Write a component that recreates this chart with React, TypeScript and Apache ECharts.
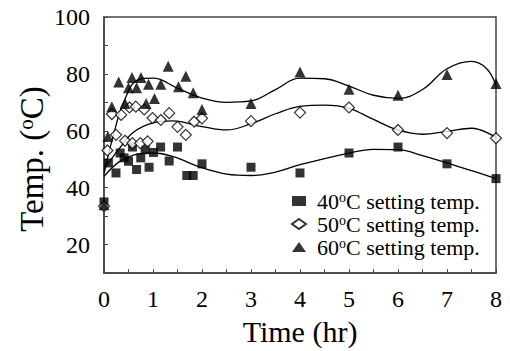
import React, { useEffect, useRef } from "react";
import * as echarts from "echarts";

// Measured points (time in hr, temperature in °C)
const t40 = [0, 0.09, 0.245, 0.33, 0.41, 0.5, 0.58, 0.665, 0.75, 0.84, 0.92, 1.01, 1.155, 1.33, 1.5, 1.69, 1.82, 2, 3, 4, 5, 6, 7, 8];
const v40 = [35, 48.7, 45.2, 52.2, 50.5, 49.3, 54.3, 46.4, 50.5, 53.4, 47.2, 52.4, 54.3, 49.4, 54.3, 44.3, 44.3, 48.4, 47.2, 45.2, 52.2, 54.3, 48.4, 43.2];

const t50 = [0, 0.07, 0.16, 0.245, 0.35, 0.43, 0.52, 0.58, 0.65, 0.74, 0.82, 0.89, 0.99, 1.16, 1.33, 1.5, 1.67, 1.84, 2, 3, 4, 5, 6, 7, 8];
const v50 = [33.5, 53.1, 65.9, 58.6, 65.6, 56.5, 68.2, 55.7, 68.5, 55.7, 67.5, 56.3, 64.5, 63.8, 66.2, 61.4, 58.6, 63.2, 64.4, 63.4, 66.4, 68.2, 60.3, 59.2, 57.4];

const t60 = [0, 0.08, 0.16, 0.3, 0.43, 0.5, 0.57, 0.665, 0.755, 0.86, 0.91, 1.03, 1.16, 1.31, 1.52, 1.67, 1.82, 2, 3, 4, 5, 6, 7, 8];
const v60 = [34, 58, 68.5, 77.2, 69.6, 75.1, 78.7, 75.1, 78.7, 69.6, 76.4, 71.4, 76.4, 82.7, 75.5, 79.2, 73.4, 67.5, 69.6, 80.7, 74.6, 72.5, 79.8, 76.6];

// Fitted trend curves
const c40t = [0, 0.3, 0.6, 1, 1.4, 2, 2.5, 3, 3.5, 4, 5, 5.5, 6, 6.5, 7, 7.5, 8];
const c40v = [44, 49, 51.5, 52.2, 51, 47, 44.8, 44.3, 45.5, 48.1, 52.2, 53.5, 53.4, 51.3, 48.7, 46, 43.2];

const c50t = [0, 0.3, 0.6, 1, 1.4, 2, 2.5, 3, 3.5, 4, 4.5, 5, 5.5, 6, 6.5, 7, 7.5, 8];
const c50v = [46.5, 53.5, 59.5, 62.8, 63.5, 61.5, 60.3, 62.5, 66, 68.6, 69, 67.9, 64, 60.3, 58.8, 59.8, 60.9, 57.7];

const c60t = [0, 0.2, 0.4, 0.7, 1, 1.5, 2, 2.5, 3, 3.5, 4, 4.5, 5, 5.5, 6, 6.5, 7, 7.5, 7.8, 8];
const c60v = [45, 59, 70, 78, 78.5, 75, 71.5, 70, 70.5, 74.5, 78.5, 78.3, 75.7, 72.5, 71.4, 74.5, 81.8, 84.4, 82, 76];

const seriesNames = ["40°C setting temp.", "50°C setting temp.", "60°C setting temp."];
const xTicks = [0, 1, 2, 3, 4, 5, 6, 7, 8];
const yTicks = [20, 40, 60, 80, 100];

const zip = (a: number[], b: number[]) => a.map((x, i) => [x, b[i]]);

const FONT = "Liberation Serif, Times New Roman, serif";

export default function App() {
  const ref = useRef<HTMLDivElement>(null);
  useEffect(() => {
    if (!ref.current) return;
    const chart = echarts.init(ref.current, undefined, { renderer: "svg" });
    const curve = (t: number[], v: number[]) => ({
      type: "line",
      data: zip(t, v),
      smooth: 0.4,
      symbol: "none",
      lineStyle: { color: "#000", width: 1.3 },
      silent: true,
      z: 1,
    });
    const sup = { fontSize: 14, fontFamily: FONT, color: "#000", verticalAlign: "top", lineHeight: 12 };
    chart.setOption({
      animation: false,
      backgroundColor: "#fff",
      textStyle: { fontFamily: FONT },
      grid: { left: 104, right: 14, top: 17, bottom: 75, show: true, borderColor: "#444", borderWidth: 1.5, backgroundColor: "transparent" },
      xAxis: {
        type: "value",
        min: 0,
        max: 8,
        interval: 0.5,
        name: "Time (hr)",
        nameLocation: "middle",
        nameGap: 41,
        nameTextStyle: { fontFamily: FONT, fontSize: 30, color: "#000", fontWeight: "normal" },
        axisLine: { lineStyle: { color: "#444", width: 1.5 } },
        axisTick: { inside: true, length: 4, lineStyle: { color: "#444" } },
        splitLine: { show: false },
        axisLabel: {
          margin: 14,
          fontFamily: FONT,
          fontWeight: "normal",
          fontSize: 24,
          color: "#000",
          formatter: (v: number) => (xTicks.includes(v) ? String(v) : ""),
        },
      },
      yAxis: {
        type: "value",
        min: 10,
        max: 100,
        interval: 10,
        axisLine: { show: true, lineStyle: { color: "#444", width: 1.5 } },
        axisTick: { show: true, inside: true, length: 4, lineStyle: { color: "#444" } },
        splitLine: { show: false },
        axisLabel: {
          margin: 14,
          fontFamily: FONT,
          fontWeight: "normal",
          fontSize: 24,
          color: "#000",
          formatter: (v: number) => (yTicks.includes(v) ? String(v) : ""),
        },
      },
      legend: {
        data: seriesNames,
        orient: "vertical",
        left: 286,
        top: 185,
        itemWidth: 14,
        itemHeight: 10,
        itemGap: 1,
        selectedMode: false,
        formatter: (name: string) => name.replace("°", "{sup|o}"),
        textStyle: {
          fontFamily: FONT,
          fontSize: 22,
          color: "#000",
          padding: [0, 0, 0, 6],
          lineHeight: 22,
          rich: { sup },
        },
      },
      graphic: [
        {
          type: "text",
          x: 32,
          y: 159,
          rotation: Math.PI / 2,
          style: {
            text: "Temp. ({sup|o}C)",
            font: `33px ${FONT}`,
            fill: "#000",
            align: "center",
            verticalAlign: "middle",
            rich: { sup: { fontSize: 21, fontFamily: FONT, fill: "#000", verticalAlign: "top", lineHeight: 17 } },
          },
        },
      ],
      series: [
        curve(c40t, c40v),
        curve(c50t, c50v),
        curve(c60t, c60v),
        {
          name: seriesNames[0],
          type: "scatter",
          data: zip(t40, v40),
          symbol: "rect",
          symbolSize: 9,
          itemStyle: { color: "#000" },
          z: 3,
        },
        {
          name: seriesNames[1],
          type: "scatter",
          data: zip(t50, v50),
          symbol: "diamond",
          symbolSize: 11,
          itemStyle: { color: "#fff", borderColor: "#000", borderWidth: 1.2 },
          z: 3,
        },
        {
          name: seriesNames[2],
          type: "scatter",
          data: zip(t60, v60),
          symbol: "triangle",
          symbolSize: 11,
          itemStyle: { color: "#000" },
          z: 3,
        },
      ],
    });
    return () => chart.dispose();
  }, []);
  return <div ref={ref} style={{ position: "fixed", left: 0, top: 0, width: 510, height: 351 }} />;
}
